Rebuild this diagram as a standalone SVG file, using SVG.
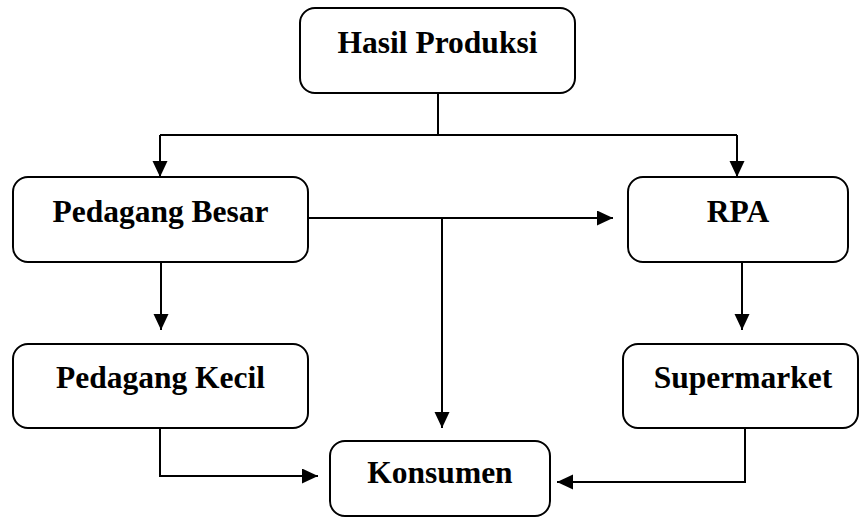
<svg xmlns="http://www.w3.org/2000/svg" width="860" height="518" viewBox="0 0 860 518">
<style>
.box{fill:#fff;stroke:#000;stroke-width:2}
.lbl{font-family:"Liberation Serif","Times New Roman",serif;font-weight:bold;font-size:31.5px;text-anchor:middle;fill:#000}
.con{fill:none;stroke:#000;stroke-width:2}
.arr{marker-end:url(#ah)}
</style>
<defs>
<marker id="ah" markerUnits="userSpaceOnUse" markerWidth="16" markerHeight="16" refX="16" refY="7.5" orient="auto">
<path d="M0,0 L16,7.5 L0,15 Z" fill="#000"/>
</marker>
</defs>
<rect width="860" height="518" fill="#fff"/>
<g id="connectors">
<path class="con" d="M438,93 V135"/>
<path class="con" d="M160,135 H737"/>
<path class="con arr" d="M160,135 V177"/>
<path class="con arr" d="M737,135 V177"/>
<path class="con arr" d="M308,218 H613"/>
<path class="con arr" d="M442,218 V428"/>
<path class="con arr" d="M161,262 V330"/>
<path class="con arr" d="M742,262 V330"/>
<path class="con arr" d="M160,428 V476 H318"/>
<path class="con arr" d="M745,428 V482 H557"/>
</g>
<g id="hasil-produksi">
<rect class="box" x="300" y="8" width="275" height="85" rx="15"/>
<text class="lbl" x="437.5" y="53">Hasil Produksi</text>
</g>
<g id="pedagang-besar">
<rect class="box" x="13" y="177" width="295" height="85" rx="15"/>
<text class="lbl" x="160.5" y="222">Pedagang Besar</text>
</g>
<g id="rpa">
<rect class="box" x="628" y="177" width="220" height="85" rx="15"/>
<text class="lbl" x="738" y="222">RPA</text>
</g>
<g id="pedagang-kecil">
<rect class="box" x="13" y="344" width="295" height="84" rx="15"/>
<text class="lbl" x="160.5" y="388">Pedagang Kecil</text>
</g>
<g id="supermarket">
<rect class="box" x="623" y="344" width="235" height="84" rx="15"/>
<text class="lbl" x="743" y="388">Supermarket</text>
</g>
<g id="konsumen">
<rect class="box" x="330" y="441" width="220" height="75" rx="15"/>
<text class="lbl" x="440" y="483">Konsumen</text>
</g>
</svg>
